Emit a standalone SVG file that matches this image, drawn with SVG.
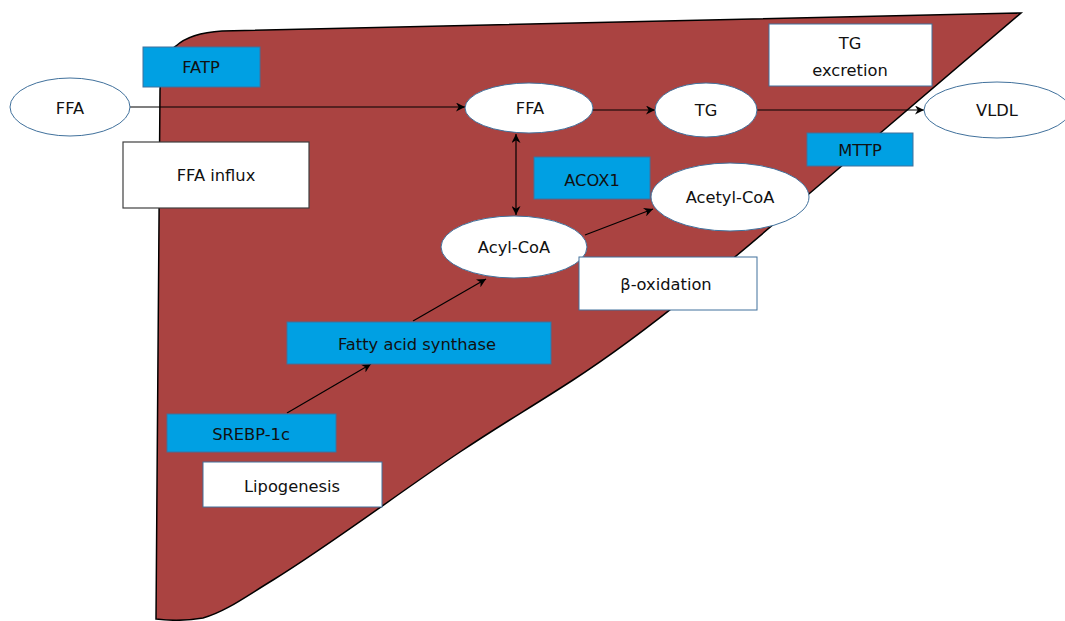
<svg xmlns="http://www.w3.org/2000/svg" width="1065" height="621" viewBox="0 0 1065 621">
<defs>
<style>
text{font-family:"DejaVu Sans","Verdana",sans-serif;font-size:16.3px;fill:#111;text-anchor:middle;dominant-baseline:central}
.blue{fill:#00A0E3;stroke:#41719C;stroke-width:1}
.wbox{fill:#fff;stroke:#41719C;stroke-width:1}
.wbox2{fill:#fff;stroke:#404040;stroke-width:1.2}
.ell{fill:#fff;stroke:#41719C;stroke-width:1}
.con{stroke:#000;stroke-width:1.2;fill:none}
</style>
<marker id="ah" viewBox="0 0 10 10" refX="10" refY="5" markerWidth="9" markerHeight="9" orient="auto-start-reverse" markerUnits="userSpaceOnUse">
<path d="M0,0 L10,5 L0,10 L3,5 z" fill="#000"/>
</marker>
</defs>
<rect width="1065" height="621" fill="#fff"/>
<path id="liver" d="M176,46 Q190,33 222,31 L1021,13 L810,193 C730,262 650,330 573,380 C530,408 500,425 460,452 C400,492 330,545 273,580 C245,597 225,612 203,618 Q180,622 156,619 L160,90 Q161,55 176,46 Z" fill="#AA4341" stroke="#000" stroke-width="1.5"/>
<g id="connectors">
<line class="con" x1="130" y1="107" x2="465" y2="107" marker-end="url(#ah)"/>
<line class="con" x1="593" y1="110" x2="655" y2="110" marker-end="url(#ah)"/>
<line class="con" x1="757" y1="110" x2="924" y2="110" marker-end="url(#ah)"/>
<line class="con" x1="516" y1="134" x2="516" y2="215" marker-start="url(#ah)" marker-end="url(#ah)"/>
<line class="con" x1="585" y1="235" x2="653" y2="209" marker-end="url(#ah)"/>
<line class="con" x1="287" y1="413" x2="371" y2="364" marker-end="url(#ah)"/>
<line class="con" x1="413" y1="321" x2="486" y2="279" marker-end="url(#ah)"/>
</g>
<g id="ffa-left"><ellipse class="ell" cx="70" cy="107" rx="60" ry="29"/><text x="70" y="108">FFA</text></g>
<g id="fatp"><rect class="blue" x="143" y="47" width="117" height="40"/><text x="201" y="67">FATP</text></g>
<g id="ffa-influx"><rect class="wbox2" x="123" y="142" width="186" height="66"/><text x="216" y="175">FFA influx</text></g>
<g id="ffa-mid"><ellipse class="ell" cx="529" cy="108" rx="64" ry="25"/><text x="530" y="108">FFA</text></g>
<g id="tg"><ellipse class="ell" cx="706" cy="110" rx="51" ry="27"/><text x="706" y="110">TG</text></g>
<g id="vldl"><ellipse class="ell" cx="997" cy="110" rx="73" ry="28"/><text x="997" y="110">VLDL</text></g>
<g id="tg-excretion"><rect class="wbox" x="769" y="24" width="163" height="62"/><text x="850" y="43">TG</text><text x="850" y="70">excretion</text></g>
<g id="mttp"><rect class="blue" x="807" y="133" width="106" height="33"/><text x="860" y="150">MTTP</text></g>
<g id="acox1"><rect class="blue" x="534" y="157" width="116" height="42"/><text x="592" y="180">ACOX1</text></g>
<g id="acetyl-coa"><ellipse class="ell" cx="730" cy="197" rx="79" ry="34"/><text x="730" y="197">Acetyl-CoA</text></g>
<g id="acyl-coa"><ellipse class="ell" cx="514" cy="247" rx="73" ry="31"/><text x="514" y="247">Acyl-CoA</text></g>
<g id="beta-oxidation"><rect class="wbox" x="579" y="257" width="178" height="53"/><text x="666" y="284">β-oxidation</text></g>
<g id="fas"><rect class="blue" x="287" y="322" width="264" height="42"/><text x="417" y="344">Fatty acid synthase</text></g>
<g id="srebp"><rect class="blue" x="167" y="414" width="169" height="38"/><text x="251" y="434">SREBP-1c</text></g>
<g id="lipogenesis"><rect class="wbox" x="203" y="462" width="179" height="45"/><text x="292" y="486">Lipogenesis</text></g>
</svg>
